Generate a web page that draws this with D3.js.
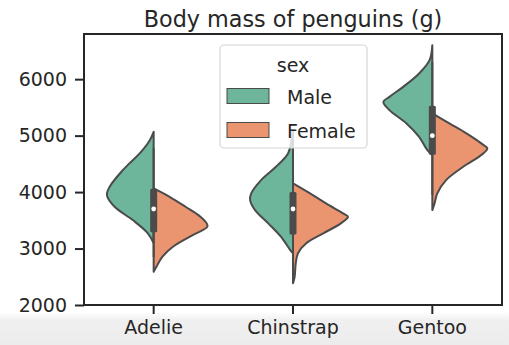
<!DOCTYPE html>
<html>
<head>
<meta charset="utf-8">
<script src="https://cdn.jsdelivr.net/npm/d3@7"></script>
<style>
  html, body { margin: 0; padding: 0; background: #fff; }
  svg { display: block; font-family: "DejaVu Sans", sans-serif; }
</style>
</head>
<body>
<svg id="chart" width="509" height="345"></svg>
<script>
// ---- data ----
const species = ["Adelie", "Chinstrap", "Gentoo"];
const sexes = ["Male", "Female"];
const yTicks = [2000, 3000, 4000, 5000, 6000];
const titleText = "Body mass of penguins (g)";
const legendTitle = "sex";

// density profiles: [body mass (g), relative density]
const adelieMale = [[5067,0],[4920,0.07],[4690,0.25],[4508,0.44],[4389,0.56],[4094,0.80],[3947,0.85],[3740,0.71],[3504,0.38],[3274,0.11],[3097,0]];
const adelieFemale = [[4065,0],[3917,0.29],[3740,0.58],[3563,0.85],[3398,0.98],[3239,0.71],[3032,0.35],[2855,0.16],[2678,0.05],[2589,0]];
const chinstrapMale = [[5097,0],[4900,0.03],[4685,0.09],[4448,0.31],[4212,0.58],[3977,0.76],[3858,0.78],[3681,0.69],[3446,0.45],[3209,0.22],[2973,0.05],[2915,0]];
const chinstrapFemale = [[4154,0],[3977,0.31],[3800,0.60],[3623,0.91],[3563,1.0],[3446,0.87],[3269,0.55],[3092,0.24],[2915,0.09],[2738,0.05],[2501,0.03],[2384,0]];
const gentooMale = [[6602,0],[6336,0.05],[6101,0.24],[5864,0.53],[5687,0.78],[5598,0.89],[5451,0.78],[5216,0.47],[4979,0.24],[4743,0.09],[4655,0]];
const gentooFemale = [[5393,0],[5216,0.31],[5039,0.62],[4862,0.89],[4773,1.0],[4655,0.89],[4448,0.56],[4212,0.25],[3977,0.09],[3800,0.04],[3681,0]];

// inner box stats per species: q1, median, q3, lower whisker, upper whisker
const boxQ1 = [3290, 3250, 4660];
const boxMedian = [3700, 3700, 5000];
const boxQ3 = [4060, 4000, 5530];
const whiskerLow = [2850, 2700, 3950];
const whiskerHigh = [4775, 4800, 6300];

// ---- layout ----
const colors = { Male: "#6db59b", Female: "#eb9470" };
const lineColor = "#4b4b4b";
const margin = { left: 84, right: 7, top: 34, bottom: 40 };
const W = 509, H = 345;

const svg = d3.select("#chart");

// bottom grey strip of the screenshot
const defs = svg.append("defs");
const grad = defs.append("linearGradient").attr("id", "bg").attr("x1", 0).attr("y1", 0).attr("x2", 0).attr("y2", 1);
grad.append("stop").attr("offset", "0%").attr("stop-color", "#ffffff");
grad.append("stop").attr("offset", "25%").attr("stop-color", "#f0f0f0");
grad.append("stop").attr("offset", "100%").attr("stop-color", "#ececec");
svg.append("rect").attr("x", 0).attr("y", 312).attr("width", W).attr("height", 33).attr("fill", "url(#bg)");

const x = d3.scaleBand().domain(species).range([margin.left, W - margin.right]);
const y = d3.scaleLinear().domain([2000, 6800]).range([H - margin.bottom, margin.top]);
const wScale = d3.scaleLinear().domain([0, 1]).range([0, 55]);

const profiles = {
  Adelie: { Male: adelieMale, Female: adelieFemale },
  Chinstrap: { Male: chinstrapMale, Female: chinstrapFemale },
  Gentoo: { Male: gentooMale, Female: gentooFemale }
};

const g = svg.append("g");

species.forEach((sp, i) => {
  const cx = x(sp) + x.bandwidth() / 2;
  sexes.forEach(sex => {
    const dir = sex === "Male" ? -1 : 1;
    const area = d3.area()
      .y(d => y(d[0]))
      .x0(cx)
      .x1(d => cx + dir * wScale(d[1]))
      .curve(d3.curveCatmullRom.alpha(0.5));
    g.append("path")
      .datum(profiles[sp][sex])
      .attr("d", area)
      .attr("fill", colors[sex])
      .attr("stroke", lineColor)
      .attr("stroke-width", 2)
      .attr("stroke-linejoin", "round");
  });
  // whisker
  g.append("line")
    .attr("x1", cx).attr("x2", cx)
    .attr("y1", y(whiskerLow[i])).attr("y2", y(whiskerHigh[i]))
    .attr("stroke", lineColor).attr("stroke-width", 2);
  // box
  g.append("rect")
    .attr("x", cx - 3.5).attr("width", 7)
    .attr("y", y(boxQ3[i])).attr("height", y(boxQ1[i]) - y(boxQ3[i]))
    .attr("rx", 1.5)
    .attr("fill", lineColor);
  // median
  g.append("circle")
    .attr("cx", cx).attr("cy", y(boxMedian[i])).attr("r", 2.4)
    .attr("fill", "#ffffff");
});

// axes
const axisColor = "#262626";
const yAxis = svg.append("g").attr("transform", `translate(${margin.left},0)`)
  .call(d3.axisLeft(y).tickValues(yTicks).tickSize(9).tickPadding(8).tickFormat(d3.format("d")));
const xAxis = svg.append("g").attr("transform", `translate(0,${H - margin.bottom})`)
  .call(d3.axisBottom(x).tickSize(9).tickPadding(7));
[yAxis, xAxis].forEach(a => {
  a.select(".domain").remove();
  a.selectAll(".tick line").attr("stroke", axisColor).attr("stroke-width", 2);
  a.selectAll(".tick text").attr("fill", "#262626").style("font-size", "19px").style("font-family", "'DejaVu Sans', sans-serif");
});

// frame (spines)
svg.append("rect")
  .attr("x", margin.left).attr("y", margin.top)
  .attr("width", W - margin.right - margin.left)
  .attr("height", H - margin.bottom - margin.top)
  .attr("fill", "none").attr("stroke", axisColor).attr("stroke-width", 2);

// title
svg.append("text")
  .attr("x", (margin.left + W - margin.right) / 2).attr("y", 27)
  .attr("text-anchor", "middle")
  .attr("fill", "#262626")
  .style("font-size", "22.3px")
  .text(titleText);

// legend
const lg = svg.append("g");
lg.append("rect")
  .attr("x", 220).attr("y", 45).attr("width", 147).attr("height", 103)
  .attr("rx", 4)
  .attr("fill", "#ffffff").attr("fill-opacity", 0.8)
  .attr("stroke", "#d6d6d6").attr("stroke-width", 1.2);
lg.append("text")
  .attr("x", 293).attr("y", 72).attr("text-anchor", "middle")
  .attr("fill", "#262626").style("font-size", "19px")
  .text(legendTitle);
sexes.forEach((sex, i) => {
  const yy = 88.5 + i * 34;
  lg.append("rect")
    .attr("x", 227).attr("y", yy).attr("width", 42).attr("height", 15)
    .attr("fill", colors[sex]).attr("stroke", lineColor).attr("stroke-width", 1);
  lg.append("text")
    .attr("x", 287).attr("y", yy + 15)
    .attr("fill", "#262626").style("font-size", "19px")
    .text(sex);
});
</script>
</body>
</html>
